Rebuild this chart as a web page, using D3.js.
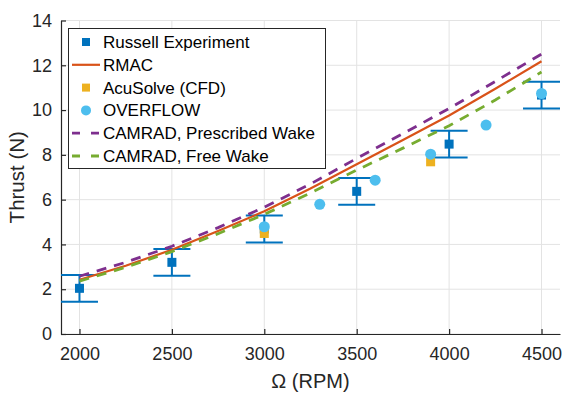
<!DOCTYPE html>
<html>
<head>
<meta charset="utf-8">
<title>Thrust vs RPM</title>
<style>
  body { margin: 0; background: #fff; }
  svg { font-family: "Liberation Sans", Arial, sans-serif; }
</style>
</head>
<body>
<script src="https://cdn.jsdelivr.net/npm/d3@7"></script>
<script>
// data
const rpmExp = [2000, 2500, 3000, 3500, 4000, 4500];
const russell = [2.04, 3.2, 4.69, 6.37, 8.48, 10.67];
const russellErr = [0.6, 0.6, 0.6, 0.6, 0.6, 0.6];

const rpmLine = [2000, 2250, 2500, 2750, 3000, 3250, 3500, 3750, 4000, 4250, 4500];
const rmac = [2.42, 3.05, 3.76, 4.6, 5.48, 6.5, 7.58, 8.66, 9.76, 10.95, 12.18];
const camPrescribed = [2.58, 3.2, 3.92, 4.75, 5.66, 6.7, 7.84, 8.95, 10.07, 11.28, 12.5];
const camFree = [2.36, 2.98, 3.68, 4.48, 5.34, 6.3, 7.32, 8.3, 9.3, 10.45, 11.7];

const rpmAcu = [3000, 3900];
const acuSolve = [4.49, 7.69];

const rpmOver = [3000, 3300, 3600, 3900, 4200, 4500];
const overflow = [4.79, 5.79, 6.87, 8.03, 9.33, 10.74];

const xTicks = [2000, 2500, 3000, 3500, 4000, 4500];
const yTicks = [0, 2, 4, 6, 8, 10, 12, 14];

const legendNames = ["Russell Experiment", "RMAC", "AcuSolve (CFD)", "OVERFLOW",
                     "CAMRAD, Prescribed Wake", "CAMRAD, Free Wake"];

const width = 564, height = 394;
const mLeft = 61, mRight = 560, mTop = 20.5, mBottom = 334;

const cBlue = "#0072BD", cOrange = "#D95319", cYellow = "#EDB120",
      cCyan = "#4DBEEE", cPurple = "#7E2F8E", cGreen = "#77AC30";
const axisColor = "#262626";

const svg = d3.select("body").append("svg")
    .attr("width", width)
    .attr("height", height);

const x = d3.scaleLinear().domain([1900, 4600]).range([mLeft, mRight]);
const y = d3.scaleLinear().domain([0, 14]).range([mBottom, mTop]);

// grid
svg.append("g").selectAll("line")
  .data(xTicks)
  .join("line")
    .attr("x1", d => x(d)).attr("x2", d => x(d))
    .attr("y1", mTop).attr("y2", mBottom)
    .attr("stroke", "#e3e3e3").attr("stroke-width", 1);
svg.append("g").selectAll("line")
  .data(yTicks)
  .join("line")
    .attr("x1", mLeft).attr("x2", mRight)
    .attr("y1", d => y(d)).attr("y2", d => y(d))
    .attr("stroke", "#e3e3e3").attr("stroke-width", 1);

// axes
const xAxis = svg.append("g")
    .attr("transform", `translate(0,${mBottom})`)
    .call(d3.axisBottom(x).tickValues(xTicks).tickFormat(d3.format("d"))
      .tickSizeInner(-5).tickSizeOuter(0).tickPadding(13));
const yAxis = svg.append("g")
    .attr("transform", `translate(${mLeft},0)`)
    .call(d3.axisLeft(y).tickValues(yTicks).tickFormat(d3.format("d"))
      .tickSizeInner(-5).tickSizeOuter(0).tickPadding(9));
[xAxis, yAxis].forEach(a => {
  a.select(".domain").attr("stroke", axisColor).attr("stroke-width", 1.2);
  a.selectAll(".tick line").attr("stroke", axisColor).attr("stroke-width", 1.2);
  a.selectAll(".tick text").attr("fill", axisColor)
    .attr("font-size", 18).attr("font-family", "Liberation Sans, Arial, sans-serif");
});

svg.append("text")
    .attr("x", (mLeft + mRight) / 2).attr("y", 388)
    .attr("text-anchor", "middle")
    .attr("font-size", 20).attr("fill", axisColor)
    .text("Ω (RPM)");
svg.append("text")
    .attr("transform", `translate(24,${(mTop + mBottom) / 2}) rotate(-90)`)
    .attr("text-anchor", "middle")
    .attr("font-size", 20.5).attr("fill", axisColor)
    .text("Thrust (N)");

// plot content, clipped to the axes box
svg.append("clipPath").attr("id", "clip")
  .append("rect").attr("x", mLeft).attr("y", mTop - 2)
    .attr("width", mRight - mLeft).attr("height", mBottom - mTop + 2);
const plot = svg.append("g").attr("clip-path", "url(#clip)");

const capW = 18.5;
const exp = rpmExp.map((r, i) => ({ r, v: russell[i], e: russellErr[i] }));
const eb = plot.append("g").attr("stroke", cBlue).attr("stroke-width", 2).attr("fill", "none");
eb.selectAll("line.v").data(exp).join("line").attr("class", "v")
    .attr("x1", d => x(d.r)).attr("x2", d => x(d.r))
    .attr("y1", d => y(d.v - d.e)).attr("y2", d => y(d.v + d.e));
eb.selectAll("line.t").data(exp).join("line").attr("class", "t")
    .attr("x1", d => x(d.r) - capW).attr("x2", d => x(d.r) + capW)
    .attr("y1", d => y(d.v + d.e)).attr("y2", d => y(d.v + d.e));
eb.selectAll("line.b").data(exp).join("line").attr("class", "b")
    .attr("x1", d => x(d.r) - capW).attr("x2", d => x(d.r) + capW)
    .attr("y1", d => y(d.v - d.e)).attr("y2", d => y(d.v - d.e));
plot.append("g").selectAll("rect").data(exp).join("rect")
    .attr("x", d => x(d.r) - 4.5).attr("y", d => y(d.v) - 4.5)
    .attr("width", 9).attr("height", 9).attr("fill", cBlue);

const line = d3.line().x(d => x(d[0])).y(d => y(d[1]));

plot.append("path")
    .attr("d", line(rpmLine.map((r, i) => [r, rmac[i]])))
    .attr("fill", "none").attr("stroke", cOrange).attr("stroke-width", 2.2);

plot.append("g").selectAll("rect").data(rpmAcu).join("rect")
    .attr("x", (d) => x(d) - 4.5).attr("y", (d, i) => y(acuSolve[i]) - 4.5)
    .attr("width", 9).attr("height", 9).attr("fill", cYellow);

plot.append("g").selectAll("circle").data(rpmOver).join("circle")
    .attr("cx", d => x(d)).attr("cy", (d, i) => y(overflow[i]))
    .attr("r", 5.5).attr("fill", cCyan);

plot.append("path")
    .attr("d", line(rpmLine.map((r, i) => [r, camPrescribed[i]])))
    .attr("fill", "none").attr("stroke", cPurple).attr("stroke-width", 2.8)
    .attr("stroke-dasharray", "10,8");
plot.append("path")
    .attr("d", line(rpmLine.map((r, i) => [r, camFree[i]])))
    .attr("fill", "none").attr("stroke", cGreen).attr("stroke-width", 2.8)
    .attr("stroke-dasharray", "10,8");

// legend
const lg = svg.append("g");
lg.append("rect")
    .attr("x", 68.5).attr("y", 28.5).attr("width", 257).attr("height", 140)
    .attr("fill", "#fff").attr("stroke", axisColor).attr("stroke-width", 1);
const rowY = i => 42 + i * 22.8;
lg.append("rect").attr("x", 82).attr("y", rowY(0) - 4).attr("width", 8).attr("height", 8).attr("fill", cBlue);
lg.append("line").attr("x1", 72).attr("x2", 100).attr("y1", rowY(1)).attr("y2", rowY(1))
    .attr("stroke", cOrange).attr("stroke-width", 2.2);
lg.append("rect").attr("x", 82).attr("y", rowY(2) - 4).attr("width", 8).attr("height", 8).attr("fill", cYellow);
lg.append("circle").attr("cx", 86).attr("cy", rowY(3)).attr("r", 5).attr("fill", cCyan);
lg.append("line").attr("x1", 72).attr("x2", 101).attr("y1", rowY(4)).attr("y2", rowY(4))
    .attr("stroke", cPurple).attr("stroke-width", 2.8).attr("stroke-dasharray", "8,11");
lg.append("line").attr("x1", 72).attr("x2", 101).attr("y1", rowY(5)).attr("y2", rowY(5))
    .attr("stroke", cGreen).attr("stroke-width", 2.8).attr("stroke-dasharray", "8,11");
lg.selectAll("text").data(legendNames).join("text")
    .attr("x", 103).attr("y", (d, i) => rowY(i))
    .attr("dy", "0.35em")
    .attr("font-size", 17).attr("fill", "#000")
    .text(d => d);
</script>
</body>
</html>
